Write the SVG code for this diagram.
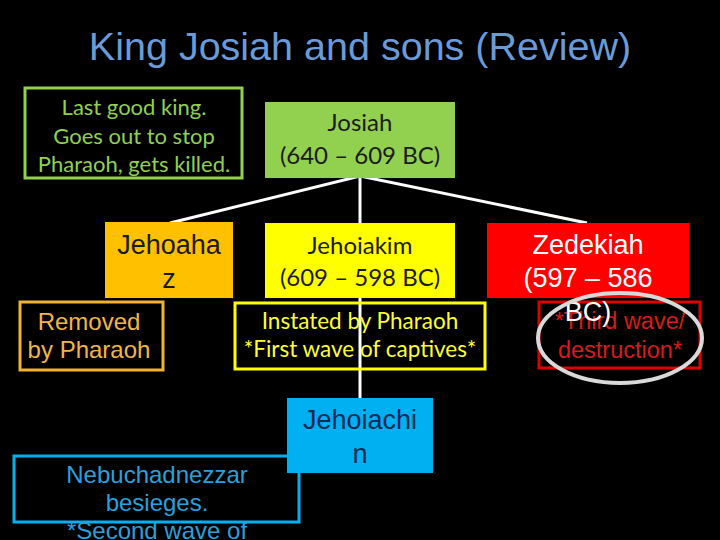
<svg xmlns="http://www.w3.org/2000/svg" width="720" height="540" viewBox="0 0 720 540">
<style>
.ttl{font-family:"Liberation Sans",Arial,sans-serif;font-size:39.5px;fill:#6A9BD8;text-anchor:middle}
.cal{font-family:Lato,"Open Sans",sans-serif;text-anchor:middle}
.ari{font-family:"Liberation Sans",Arial,sans-serif;text-anchor:middle}
.conn{stroke:#FFFFFF;stroke-width:3;fill:none}
</style>
<rect x="0" y="0" width="720" height="540" fill="#000000"/>
<text class="ttl" x="360" y="60">King Josiah and sons (Review)</text>

<g id="connectors">
<polyline class="conn" points="170,223 360,176 587,223"/>
<line class="conn" x1="360" y1="176" x2="360" y2="398"/>
</g>

<g id="note-josiah">
<rect x="25" y="88" width="217" height="90" fill="none" stroke="#92D050" stroke-width="3"/>
<text class="cal" x="134" y="115" font-size="22" fill="#92D050">Last good king.</text>
<text class="cal" x="134" y="144" font-size="22" fill="#92D050">Goes out to stop</text>
<text class="cal" x="134" y="172" font-size="22" fill="#92D050">Pharaoh, gets killed.</text>
</g>

<g id="josiah">
<rect x="265" y="102" width="190" height="76" fill="#92D050"/>
<text class="cal" x="360" y="131" font-size="24" fill="#1A1A1A">Josiah</text>
<text class="cal" x="360" y="164" font-size="24" fill="#1A1A1A">(640 – 609 BC)</text>
</g>

<g id="jehoahaz">
<rect x="105" y="222" width="128" height="76" fill="#FFC000"/>
<text class="ari" x="169" y="254" font-size="27" fill="#1A1A1A">Jehoaha</text>
<text class="ari" x="169" y="288" font-size="27" fill="#1A1A1A">z</text>
</g>

<g id="note-jehoahaz">
<rect x="20" y="302" width="143" height="68" fill="none" stroke="#F2B134" stroke-width="3"/>
<text class="ari" x="89" y="330" font-size="24" fill="#F2B646">Removed</text>
<text class="ari" x="89" y="358" font-size="24" fill="#F2B646">by Pharaoh</text>
</g>

<g id="jehoiakim">
<rect x="265" y="223" width="190" height="75" fill="#FFFF00"/>
<text class="cal" x="360" y="254" font-size="24" fill="#1A1A1A">Jehoiakim</text>
<text class="cal" x="360" y="286" font-size="24" fill="#1A1A1A">(609 – 598 BC)</text>
</g>

<g id="note-jehoiakim">
<rect x="235" y="303" width="250" height="66" fill="none" stroke="#FFFF00" stroke-width="3"/>
<text class="cal" x="360" y="329" font-size="22.5" fill="#FFFF33">Instated by Pharaoh</text>
<text class="cal" x="360" y="357" font-size="22.5" fill="#FFFF33">*First wave of captives*</text>
</g>

<g id="zedekiah">
<rect x="487" y="223" width="202" height="75" fill="#FF0000"/>
<text class="ari" x="588" y="254" font-size="27" fill="#FFFFFF">Zedekiah</text>
</g>

<g id="note-zedekiah">
<rect x="539" y="302" width="161" height="66" fill="none" stroke="#E00000" stroke-width="3"/>
<text class="ari" x="620" y="329" font-size="23.5" fill="#D81B1B">*Third wave/</text>
<text class="ari" x="620" y="358" font-size="23.5" fill="#D81B1B">destruction*</text>
</g>

<g id="zedekiah-dates">
<text class="ari" x="588" y="287" font-size="27" fill="#FFFFFF">(597 – 586</text>
<text class="ari" x="588" y="321" font-size="27" fill="#FFFFFF">BC)</text>
</g>

<g id="highlight">
<ellipse cx="620" cy="338" rx="82" ry="45" fill="none" stroke="#D9D9D9" stroke-width="4"/>
</g>

<g id="note-jehoiachin">
<rect x="14" y="456" width="285" height="66" fill="none" stroke="#00B0F0" stroke-width="3"/>
<text class="ari" x="157" y="483" font-size="24" fill="#2AA0DC">Nebuchadnezzar</text>
<text class="ari" x="157" y="511" font-size="24" fill="#2AA0DC">besieges.</text>
<text class="ari" x="157" y="539" font-size="24" fill="#2AA0DC">*Second wave of</text>
</g>

<g id="jehoiachin">
<rect x="287" y="398" width="146" height="75" fill="#00B0F0"/>
<text class="ari" x="360" y="429" font-size="27" fill="#0D2A55">Jehoiachi</text>
<text class="ari" x="360" y="463" font-size="27" fill="#0D2A55">n</text>
</g>
</svg>
